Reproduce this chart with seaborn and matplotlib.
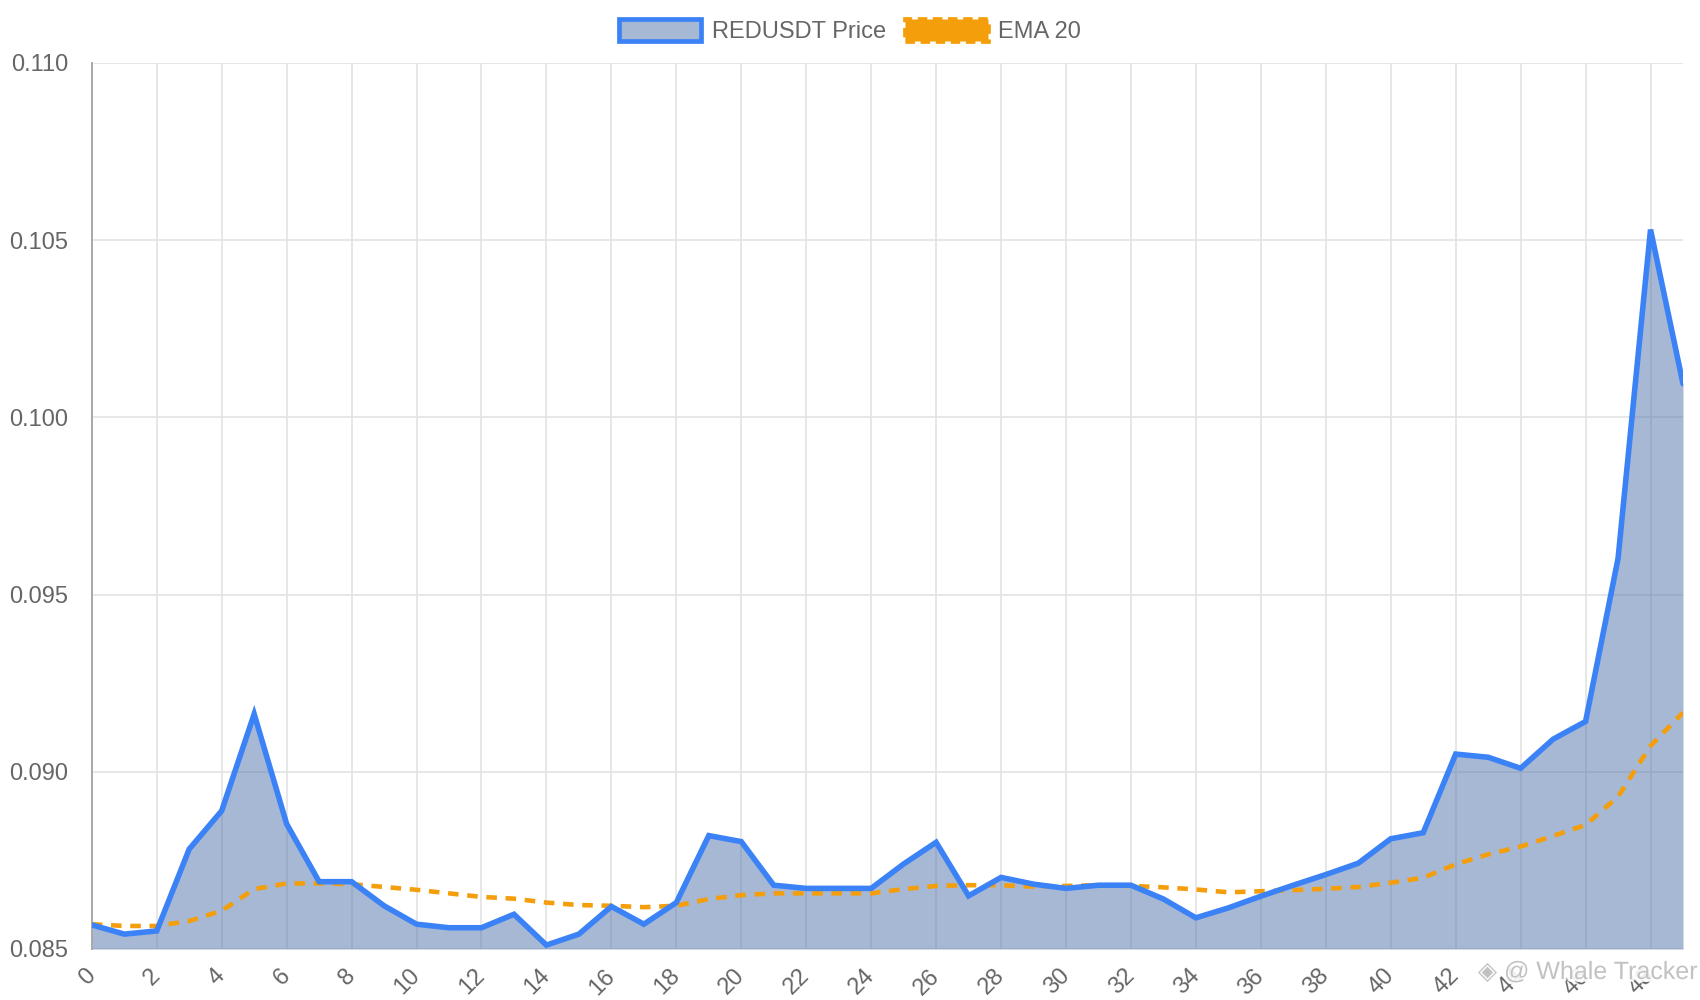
import matplotlib
matplotlib.use("Agg")
import matplotlib.pyplot as plt
import matplotlib.patheffects as pe
from matplotlib.patches import Patch
import seaborn as sns

# candle index on the x axis
candles = list(range(50))

price = [0.08568, 0.08542, 0.08551, 0.08782, 0.08890, 0.09163, 0.08853, 0.08690, 0.08690, 0.08622,
         0.08570, 0.08560, 0.08560, 0.08598, 0.08511, 0.08542, 0.08620, 0.08570, 0.08631, 0.08820,
         0.08803, 0.08680, 0.08671, 0.08671, 0.08671, 0.08740, 0.08801, 0.08650, 0.08702, 0.08683,
         0.08671, 0.08680, 0.08680, 0.08641, 0.08588, 0.08616, 0.08649, 0.08680, 0.08710, 0.08742,
         0.08811, 0.08828, 0.09050, 0.09041, 0.09010, 0.09092, 0.09142, 0.09602, 0.10530, 0.10095]

ema20 = [0.08570, 0.08565, 0.08565, 0.08579, 0.08608, 0.08669, 0.08685, 0.08685, 0.08683, 0.08675,
         0.08667, 0.08657, 0.08647, 0.08642, 0.08631, 0.08624, 0.08622, 0.08618, 0.08622, 0.08641,
         0.08652, 0.08657, 0.08657, 0.08657, 0.08657, 0.08669, 0.08678, 0.08680, 0.08680, 0.08676,
         0.08678, 0.08680, 0.08678, 0.08674, 0.08668, 0.08660, 0.08663, 0.08666, 0.08670, 0.08675,
         0.08687, 0.08701, 0.08739, 0.08767, 0.08789, 0.08819, 0.08850, 0.08930, 0.09073, 0.09167]

y_ticks = [0.085, 0.090, 0.095, 0.100, 0.105, 0.110]
x_ticks = list(range(0, 49, 2))
labels = ["REDUSDT Price", "EMA 20"]

blue = "#3b82f6"
orange = "#f59e0b"
fill_col = (0.31, 0.45, 0.67, 0.5)
grid_col = "#e3e3e3"
text_col = "#666666"

sns.set_theme(style="whitegrid")
plt.rcParams['font.family'] = ['Liberation Sans', 'DejaVu Sans']

fig = plt.figure(figsize=(17, 10), dpi=100)
ax = fig.add_axes([0.054, 0.051, 0.936, 0.886])

ax.fill_between(candles, price, y_ticks[0], color=fill_col, linewidth=0, zorder=2)
sns.lineplot(x=candles, y=ema20, ax=ax, color=orange, linewidth=3.3, zorder=3)
ax.lines[-1].set_dashes([2.3, 1.9])
ax.lines[-1].set_dash_capstyle("butt")
sns.lineplot(x=candles, y=price, ax=ax, color=blue, linewidth=4.0, zorder=4)
ax.lines[-1].set_solid_joinstyle("miter")

ax.set_xlim(0, 49)
ax.set_ylim(y_ticks[0], y_ticks[-1])
ax.set_xticks(x_ticks)
ax.set_yticks(y_ticks)
ax.set_yticklabels([f"{v:.3f}" for v in y_ticks])
ax.set_xlabel("")
ax.set_ylabel("")

ax.grid(True, color=grid_col, linewidth=1.2, zorder=0)
ax.set_axisbelow(True)
for side in ["top", "right", "bottom"]:
    ax.spines[side].set_visible(False)
ax.spines["left"].set_color("#a8a8a8")
ax.spines["left"].set_linewidth(1.4)

ax.tick_params(axis="both", length=14, width=1.2, color=grid_col, labelcolor=text_col,
               labelsize=17, pad=3)
for lab in ax.get_xticklabels():
    lab.set_rotation(45)
    lab.set_ha("right")
    lab.set_va("center")
    lab.set_rotation_mode("anchor")

handles = [
    Patch(facecolor=fill_col, edgecolor=blue, linewidth=3.4),
    Patch(facecolor=orange, edgecolor=orange, linewidth=3.4, linestyle=(0, (2, 1.2))),
]
fig.legend(handles, labels, loc="center", bbox_to_anchor=(0.5, 0.969), ncol=2, frameon=False,
           fontsize=17, handlelength=3.5, handleheight=1.1, handletextpad=0.45,
           columnspacing=0.8, labelcolor=text_col)

# faint watermark, bottom right
wm = fig.text(0.934, 0.028, "◈ @ Whale Tracker", ha="center", va="center", fontsize=18,
              color="#bdbdbd", alpha=0.9, zorder=10)
wm.set_path_effects([pe.withStroke(linewidth=4, foreground="white")])

fig.savefig("out.png", dpi=100)
